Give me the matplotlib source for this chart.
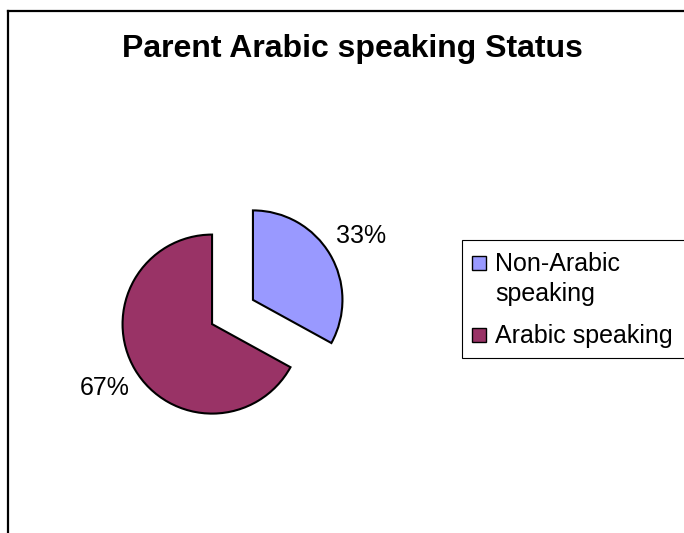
import matplotlib.pyplot as plt
from matplotlib.patches import Rectangle
from matplotlib.lines import Line2D

plt.rcParams['font.family'] = ['Liberation Sans', 'DejaVu Sans']

labels = ['Non-Arabic\nspeaking', 'Arabic speaking']
values = [33, 67]
colors = ['#9999FF', '#993366']
title = 'Parent Arabic speaking Status'

W, H = 684, 533
fig = plt.figure(figsize=(W / 100, H / 100), dpi=100)
ax = fig.add_axes([0, 0, 1, 1])

# pie in pixel coordinates (y up); explode is in data units here
ax.pie(values, colors=colors, startangle=90, counterclock=False,
       radius=89.5, center=(232.5, H - 312), explode=[23.75, 23.75],
       autopct='%1.0f%%', pctdistance=1.4,
       wedgeprops=dict(edgecolor='black', linewidth=1.5),
       textprops=dict(fontsize=18, color='black'))
ax.set_xlim(0, W)
ax.set_ylim(0, H)
ax.set_aspect('equal')
ax.axis('off')

ax.text(352, H - 49, title, fontsize=23, fontweight='bold',
        ha='center', va='center')

# outer chart border (left and top only visible)
ax.add_line(Line2D([7.5, 7.5], [0, H - 10.5], color='black', lw=1.6))
ax.add_line(Line2D([7.5, W], [H - 10.5, H - 10.5], color='black', lw=1.6))

# legend box
ax.add_patch(Rectangle((462, H - 358), 240, 118, facecolor='white',
                       edgecolor='black', lw=0.8))
rows = [H - 263, H - 335]
for lab, col, yc in zip(labels, colors, rows):
    ax.add_patch(Rectangle((472, yc - 7), 14, 14, facecolor=col,
                           edgecolor='black', lw=1.0))
    ax.text(495, yc + 11, lab, fontsize=18, ha='left', va='top',
            linespacing=1.3)

fig.savefig('out.png', dpi=100)
